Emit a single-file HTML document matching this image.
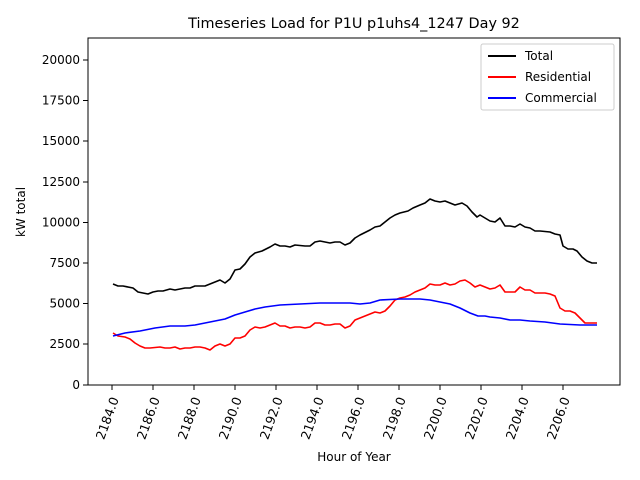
<!DOCTYPE html>
<html><head><style>body{margin:0;background:#fff}svg{display:block}text{font-family:"DejaVu Sans","Liberation Sans",sans-serif;fill:#000}</style></head>
<body>
<svg width="640" height="480" viewBox="0 0 640 480" xmlns="http://www.w3.org/2000/svg">
<rect width="640" height="480" fill="#fff"/>
<text x="354" y="28" font-size="14.4" text-anchor="middle">Timeseries Load for P1U p1uhs4_1247  Day 92</text>
<g stroke="#000" stroke-width="1">
<line x1="83" y1="385" x2="88" y2="385"/><line x1="83" y1="344" x2="88" y2="344"/><line x1="83" y1="303.5" x2="88" y2="303.5"/><line x1="83" y1="263" x2="88" y2="263"/><line x1="83" y1="222.5" x2="88" y2="222.5"/><line x1="83" y1="182" x2="88" y2="182"/><line x1="83" y1="141" x2="88" y2="141"/><line x1="83" y1="100.5" x2="88" y2="100.5"/><line x1="83" y1="60" x2="88" y2="60"/>
</g>
<g font-size="12" text-anchor="end">
<text x="80" y="389">0</text><text x="80" y="348">2500</text><text x="80" y="307.5">5000</text><text x="80" y="267">7500</text><text x="80" y="226.5">10000</text><text x="80" y="186">12500</text><text x="80" y="145">15000</text><text x="80" y="104.5">17500</text><text x="80" y="64">20000</text>
</g>
<g stroke="#000">
<line x1="112" y1="385" x2="112" y2="390"/><line x1="153" y1="385" x2="153" y2="390"/><line x1="194" y1="385" x2="194" y2="390"/><line x1="235" y1="385" x2="235" y2="390"/><line x1="276" y1="385" x2="276" y2="390"/><line x1="317" y1="385" x2="317" y2="390"/><line x1="358" y1="385" x2="358" y2="390"/><line x1="399" y1="385" x2="399" y2="390"/><line x1="440" y1="385" x2="440" y2="390"/><line x1="481" y1="385" x2="481" y2="390"/><line x1="522" y1="385" x2="522" y2="390"/><line x1="563" y1="385" x2="563" y2="390"/>
</g>
<g font-size="12.6" text-anchor="end">
<text transform="translate(119,399) rotate(-70)">2184.0</text>
<text transform="translate(160,399) rotate(-70)">2186.0</text>
<text transform="translate(201,399) rotate(-70)">2188.0</text>
<text transform="translate(242,399) rotate(-70)">2190.0</text>
<text transform="translate(283,399) rotate(-70)">2192.0</text>
<text transform="translate(324,399) rotate(-70)">2194.0</text>
<text transform="translate(365,399) rotate(-70)">2196.0</text>
<text transform="translate(406,399) rotate(-70)">2198.0</text>
<text transform="translate(447,399) rotate(-70)">2200.0</text>
<text transform="translate(488,399) rotate(-70)">2202.0</text>
<text transform="translate(529,399) rotate(-70)">2204.0</text>
<text transform="translate(570,399) rotate(-70)">2206.0</text>
</g>
<text x="354" y="461" font-size="12" text-anchor="middle">Hour of Year</text>
<text transform="translate(25,212) rotate(-90)" font-size="12" text-anchor="middle">kW total</text>
<g fill="none" stroke-width="1.6" stroke-linejoin="round">
<polyline stroke="#000" points="113,284 118,286 123,286 133,288 138,292 148,294 153,292 158,291 163,291 170,289 175,290 185,288 190,288 195,286 205,286 210,284 220,280 225,283 230,279 235,270 240,269 245,264 250,257 255,253 262,251 270,247 275,244 280,246 285,246 290,247 295,245 305,246 310,246 315,242 320,241 330,243 335,242 340,242 345,245 350,243 355,238 360,235 370,230 375,227 380,226 385,222 390,218 395,215 400,213 408,211 413,208 420,205 425,203 430,199 435,201 440,202 445,201 450,203 455,205 462,203 467,206 472,212 477,217 480,215 485,218 490,221 495,222 500,218 505,226 510,226 515,227 520,224 525,227 530,228 535,231 540,231 550,232 555,234 560,235 563,246 568,249 573,249 577,251 582,257 587,261 592,263 597,263"/>
<polyline stroke="#f00" points="113,333 118,336 125,337 130,339 135,343 140,346 145,348 150,348 160,347 165,348 170,348 175,347 180,349 185,348 190,348 195,347 200,347 205,348 210,350 215,346 220,344 225,346 230,344 235,338 240,338 245,336 250,330 255,327 260,328 265,327 270,325 275,323 280,326 285,326 290,328 295,327 300,327 305,328 310,327 315,323 320,323 325,325 330,325 335,324 340,324 345,328 350,326 355,320 360,318 365,316 370,314 375,312 380,313 385,311 390,306 395,300 400,298 405,297 410,295 415,292 420,290 425,288 430,284 435,285 440,285 445,283 450,285 455,284 460,281 465,280 470,283 475,287 480,285 485,287 490,289 495,288 500,285 505,292 510,292 515,292 520,287 525,290 530,290 535,293 540,293 545,293 550,294 555,296 560,308 565,311 570,311 575,313 580,318 585,323 590,323 597,323"/>
<polyline stroke="#00f" points="113,336 125,333 140,331 155,328 170,326 185,326 195,325 205,323 215,321 225,319 235,315 245,312 255,309 265,307 280,305 300,304 320,303 350,303 360,304 370,303 380,300 400,299 420,299 430,300 440,302 450,304 460,308 470,313 478,316 485,316 490,317 500,318 510,320 520,320 530,321 545,322 560,324 580,325 597,325"/>
</g>
<rect x="88" y="38" width="532" height="347" fill="none" stroke="#000" stroke-width="1"/>
<rect x="481" y="44" width="133" height="66" rx="2" fill="#fff" fill-opacity="0.8" stroke="#ccc"/>
<g stroke-width="2"><line x1="488" y1="56" x2="516" y2="56" stroke="#000"/><line x1="488" y1="77" x2="516" y2="77" stroke="#f00"/><line x1="488" y1="98" x2="516" y2="98" stroke="#00f"/></g>
<g font-size="12"><text x="525" y="60">Total</text><text x="525" y="81">Residential</text><text x="525" y="102">Commercial</text></g>
</svg>
</body></html>
